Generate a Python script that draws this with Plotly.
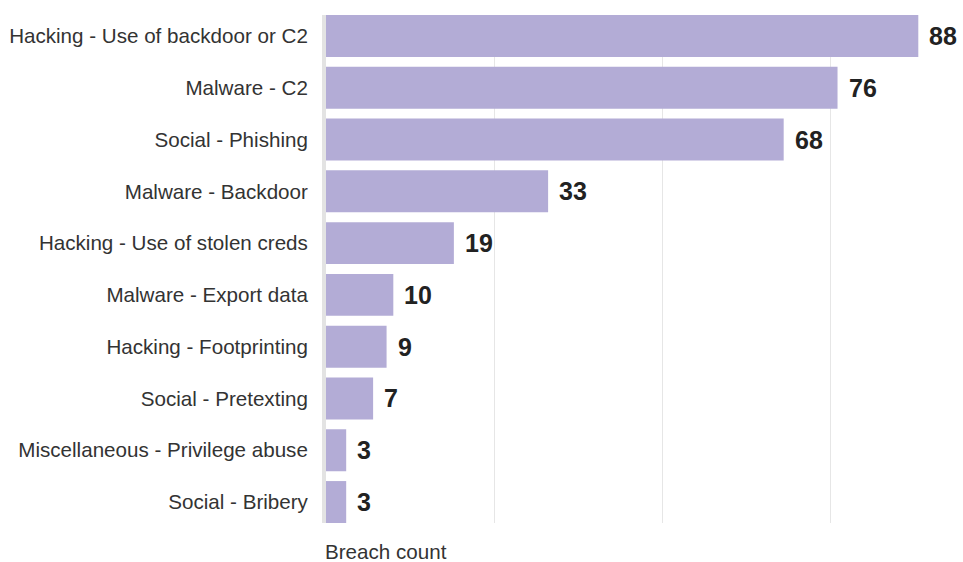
import plotly.graph_objects as go

categories = [
    "Hacking - Use of backdoor or C2",
    "Malware - C2",
    "Social - Phishing",
    "Malware - Backdoor",
    "Hacking - Use of stolen creds",
    "Malware - Export data",
    "Hacking - Footprinting",
    "Social - Pretexting",
    "Miscellaneous - Privilege abuse",
    "Social - Bribery",
]
values = [88, 76, 68, 33, 19, 10, 9, 7, 3, 3]
x_title = "Breach count"

FONT = "Liberation Sans, Arial, sans-serif"

fig = go.Figure()
fig.add_trace(go.Bar(
    x=values, y=categories, orientation="h",
    marker=dict(color="#b3acd6", line=dict(width=0)),
    hoverinfo="x+y",
))

for c, v in zip(categories, values):
    fig.add_annotation(
        x=v, y=c, xref="x", yref="y", text=f"<b>{v}</b>",
        showarrow=False, xanchor="left", yanchor="middle", xshift=9,
        font=dict(family=FONT, size=25, color="#222222"),
    )

fig.add_annotation(
    x=0, y=0, xref="paper", yref="paper", text=x_title, showarrow=False,
    xanchor="left", yanchor="middle", xshift=-3, yshift=-28,
    font=dict(family=FONT, size=20.6, color="#333333"),
)

fig.update_layout(
    width=963, height=562,
    margin=dict(l=326, r=6, t=15, b=39),
    paper_bgcolor="white", plot_bgcolor="white",
    bargap=0.19,
    showlegend=False,
    font=dict(family=FONT, size=20.6, color="#333333"),
    xaxis=dict(
        range=[0, 93.75], showticklabels=False, ticks="",
        showgrid=True, gridcolor="#e6e6e6", gridwidth=1, dtick=25,
        zeroline=False, showline=False, fixedrange=True,
    ),
    yaxis=dict(
        categoryorder="array", categoryarray=categories,
        range=[9.405, -0.405], showgrid=False, zeroline=False,
        showline=True, linecolor="#e3e3e3", linewidth=4,
        ticks="", ticklabelstandoff=10,
        tickfont=dict(size=20.6, color="#333333"),
    ),
)

fig.write_html(
    "out.html",
    config={"displayModeBar": False},
    post_script="document.documentElement.style.overflow='hidden';"
                "document.body.style.margin='0';document.body.style.overflow='hidden';",
)
